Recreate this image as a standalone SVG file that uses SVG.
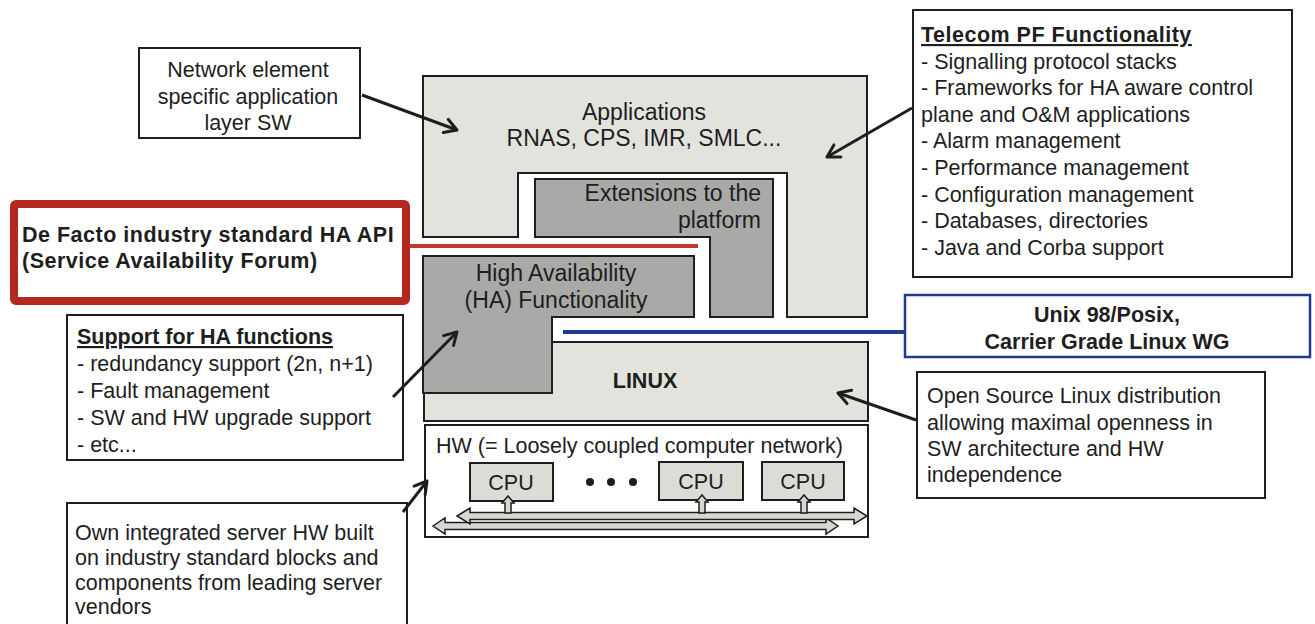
<svg xmlns="http://www.w3.org/2000/svg" width="1315" height="624" viewBox="0 0 1315 624">
<style>
text{font-family:"Liberation Sans",Arial,sans-serif;fill:#1e1e1e;font-size:21.5px}
.b{font-weight:bold}
.u{text-decoration:underline}
.mid{text-anchor:middle}
.end{text-anchor:end}
.c{font-size:23px}
.box{fill:#fff;stroke:#1e1e1e;stroke-width:2}
.light{fill:#e3e3dd;stroke:#1e1e1e;stroke-width:2}
.dark{fill:#a9a9a7;stroke:#1e1e1e;stroke-width:2}
.cpu{fill:#dcdcd6;stroke:#1e1e1e;stroke-width:2}
.bus{fill:#d8d8d2;stroke:#1e1e1e;stroke-width:1.5}
.arr{fill:none;stroke:#1e1e1e;stroke-width:3;marker-end:url(#ah)}
</style>
<defs>
<marker id="ah" markerUnits="userSpaceOnUse" markerWidth="30" markerHeight="30" viewBox="-15 -15 30 30" refX="0" refY="0" orient="auto">
<path d="M-12,-7 L0,0 L-12,7" fill="none" stroke="#1e1e1e" stroke-width="3" stroke-linecap="round" stroke-linejoin="round"/>
</marker>
</defs>
<rect width="1315" height="624" fill="#fff"/>

<g id="applications">
<polygon class="light" points="423,76 867,76 867,317 787,317 787,173 518,173 518,237 423,237"/>
<text class="mid c" x="644" y="120">Applications</text>
<text class="mid c" x="644" y="146">RNAS, CPS, IMR, SMLC...</text>
</g>

<g id="extensions">
<polygon class="dark" points="535,179 773,179 773,317 710,317 710,237 535,237"/>
<text class="end c" x="761" y="201">Extensions to the</text>
<text class="end c" x="761" y="228">platform</text>
</g>

<g id="linux">
<rect class="light" x="424" y="342" width="444" height="79"/>
<text class="mid b" x="645" y="388" font-size="22">LINUX</text>
</g>

<g id="ha">
<polygon class="dark" points="423,256 694,256 694,317 552,317 552,393 423,393"/>
<text class="mid c" x="556" y="281">High Availability</text>
<text class="mid c" x="556" y="308">(HA) Functionality</text>
</g>

<g id="hw">
<rect class="box" x="425" y="425" width="443" height="112"/>
<text x="436" y="453" font-size="21.8">HW (= Loosely coupled computer network)</text>
<rect class="cpu" x="470" y="463" width="83" height="38"/>
<text class="mid" x="511" y="490">CPU</text>
<rect class="cpu" x="659" y="462" width="84" height="38"/>
<text class="mid" x="701" y="489">CPU</text>
<rect class="cpu" x="762" y="462" width="82" height="38"/>
<text class="mid" x="803" y="489">CPU</text>
<circle cx="590" cy="482" r="4" fill="#1e1e1e"/>
<circle cx="611" cy="482" r="4" fill="#1e1e1e"/>
<circle cx="633" cy="482" r="4" fill="#1e1e1e"/>
<path class="bus" d="M433,526 L445,518 L445,522.5 L826,522.5 L826,518 L838,526 L826,534 L826,529.5 L445,529.5 L445,534 Z"/>
<path class="bus" d="M457,516 L470,508 L470,512.5 L854,512.5 L854,508 L867,516 L854,524 L854,519.5 L470,519.5 L470,524 Z"/>
<path class="bus" d="M505,513 L505,503 L502,503 L508,496 L514,503 L511,503 L511,513 Z"/>
<path class="bus" d="M699,513 L699,502 L696,502 L702,495 L708,502 L705,502 L705,513 Z"/>
<path class="bus" d="M801,513 L801,502 L798,502 L804,495 L810,502 L807,502 L807,513 Z"/>
</g>

<g id="network-element">
<rect class="box" x="139" y="48" width="221" height="90"/>
<text class="mid" x="248" y="77">Network element</text>
<text class="mid" x="248" y="104">specific application</text>
<text class="mid" x="248" y="130">layer SW</text>
</g>

<g id="telecom">
<rect class="box" x="913" y="10" width="379" height="267"/>
<text class="b u" x="921" y="42" letter-spacing="0.5">Telecom PF Functionality</text>
<text x="921" y="68.6">- Signalling protocol stacks</text>
<text x="921" y="95.2">- Frameworks for HA aware control</text>
<text x="921" y="121.8">plane and O&amp;M applications</text>
<text x="921" y="148.4">- Alarm management</text>
<text x="921" y="175">- Performance management</text>
<text x="921" y="201.6">- Configuration management</text>
<text x="921" y="228.2">- Databases, directories</text>
<text x="921" y="254.8">- Java and Corba support</text>
</g>

<g id="defacto">
<rect x="14" y="204" width="392" height="97" fill="#fff" stroke="#b3291f" stroke-width="8" rx="2"/>
<text class="b" x="22" y="242" font-size="22" letter-spacing="0.5">De Facto industry standard HA API</text>
<text class="b" x="22" y="268" font-size="22" letter-spacing="0.5">(Service Availability Forum)</text>
</g>

<g id="support">
<rect class="box" x="67" y="315" width="336" height="145"/>
<text class="b u" x="77" y="344">Support for HA functions</text>
<text x="77" y="371">- redundancy support (2n, n+1)</text>
<text x="77" y="398">- Fault management</text>
<text x="77" y="425">- SW and HW upgrade support</text>
<text x="77" y="452">- etc...</text>
</g>

<g id="unix">
<rect x="905" y="295" width="405" height="62" fill="#fff" stroke="#1f3a8f" stroke-width="2.5"/>
<text class="mid b" x="1107" y="322" font-size="21">Unix 98/Posix,</text>
<text class="mid b" x="1107" y="349" font-size="21">Carrier Grade Linux WG</text>
</g>

<g id="opensource">
<rect class="box" x="917" y="372" width="348" height="126"/>
<text x="927" y="403">Open Source Linux distribution</text>
<text x="927" y="430">allowing maximal openness in</text>
<text x="927" y="456">SW architecture and HW</text>
<text x="927" y="482">independence</text>
</g>

<g id="own-hw">
<path d="M67,624 L67,503 L407,503 L407,624" class="box"/>
<text x="75" y="540">Own integrated server HW built</text>
<text x="75" y="565">on industry standard blocks and</text>
<text x="75" y="590">components from leading server</text>
<text x="75" y="614">vendors</text>
</g>

<g id="connectors">
<line x1="362" y1="95" x2="457" y2="130" class="arr"/>
<line x1="912" y1="108" x2="827" y2="157" class="arr"/>
<line x1="393" y1="397" x2="457" y2="332" class="arr"/>
<line x1="403" y1="512" x2="427" y2="481" class="arr"/>
<line x1="916" y1="420" x2="838" y2="393" class="arr"/>
<line x1="410" y1="246" x2="698" y2="246" stroke="#c0392b" stroke-width="4"/>
<line x1="563" y1="332" x2="905" y2="332" stroke="#1f3a8f" stroke-width="4"/>
</g>
</svg>
